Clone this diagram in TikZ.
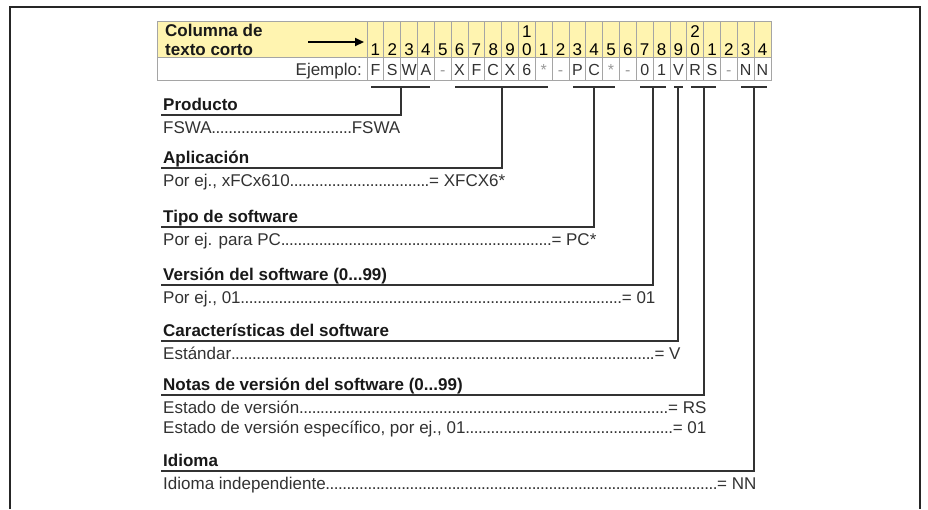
\documentclass[tikz,border=0pt]{standalone}
\usepackage{fontspec}
\setmainfont{Liberation Sans}
\usetikzlibrary{arrows.meta,positioning,calc}
\definecolor{hdyellow}{RGB}{255,244,176}
\definecolor{gridgray}{RGB}{165,165,165}
\definecolor{ink}{RGB}{50,50,50}
\newcommand{\leadline}[3]{\hbox to #1pt{#2\xleaders\hbox to 4.2pt{\hss.\hss}\hfill#3}}

\begin{document}
\begin{tikzpicture}[x=1pt, y=-1pt,
  font=\fontsize{17}{20}\selectfont,
  frame/.style={line width=2.6pt, black!85},
  grid/.style={draw=gridgray, line width=0.8pt},
  digit/.style={anchor=base, inner sep=0pt},
  letter/.style={anchor=base, inner sep=0pt, font=\fontsize{16}{18}\selectfont},
  brk/.style={draw=ink, line width=2pt},
  title/.style={anchor=base west, inner sep=0pt, text=black!90, font=\bfseries\fontsize{17}{20}\selectfont},
  item/.style={anchor=base west, inner sep=0pt, text=ink}]
\useasboundingbox (0,0) rectangle (928,509);
\draw[frame] (10,509) -- (10,7) -- (920,7) -- (920,509);

% table head
\fill[hdyellow] (157,21) rectangle (771,57);
\draw[grid] (157,21) rectangle (771,80);
\draw[grid] (157,57) -- (771,57);
\foreach \i in {0,...,24}
  \draw[grid] ({367+16.83*\i},21) -- ({367+16.83*\i},80);
\node[title] (hd1) at (165,36) {Columna de};
\node[title] (hd2) at (165,55) {texto corto};
\coordinate (ar1) at (308,42);
\coordinate (ar2) at (364,42);
\draw[-{Triangle[length=9pt,width=8pt]}, line width=2.2pt] (ar1) -- (ar2);
\foreach \d [count=\i] in {1,2,3,4,5,6,7,8,9,0,1,2,3,4,5,6,7,8,9,0,1,2,3,4}
  \node[digit] (d\i) at ({367+16.83*(\i-0.5)},55) {\d};
\node[digit] (d10t) at ({367+16.83*9.5},37) {1};
\node[digit] (d20t) at ({367+16.83*19.5},37) {2};

% example row
\node[item, anchor=base east] (ej) at (362,75) {Ejemplo:};
\foreach \c/\k [count=\i] in {F/ink,S/ink,W/ink,A/ink,-/black!40,X/ink,F/ink,C/ink,X/ink,6/ink,*/black!40,-/black!40,P/ink,C/ink,*/black!40,-/black!40,0/ink,1/ink,V/ink,R/ink,S/ink,-/black!40,N/ink,N/ink}
  \node[letter, text=\k] (e\i) at ({367+16.83*(\i-0.5)},75) {\c};

% brackets and leaders
\foreach \a/\b/\u [count=\k] in {1/4/115, 6/11/168, 13/15/227, 17/18/285, 19/19/341, 20/21/395, 23/24/471} {
  \coordinate (bl\k) at ({367+16.83*(\a-1)+4},87);
  \coordinate (br\k) at ({367+16.83*\b-4},87);
  \coordinate (b\k) at ({367+16.83*(\a+\b-1)/2},87);
  \coordinate (u\k) at (161,\u);
  \draw[brk] (bl\k) -- (br\k);
  \draw[brk] (b\k) |- (u\k);
}

\node[title] (t1) at (163,110) {Producto};
\node[item] (i1) at (163,133) {\leadline{237}{FSWA}{FSWA}};
\node[title] (t2) at (163,163) {Aplicación};
\node[item] (i2) at (163,186) {\leadline{342}{Por ej., xFCx610}{= XFCX6*}};
\node[title] (t3) at (163,222) {Tipo de software};
\node[item] (i3) at (163,245) {\leadline{433}{Por ej. para PC}{= PC*}};
\node[title] (t4) at (163,280) {Versión del software (0...99)};
\node[item] (i4) at (163,303) {\leadline{492}{Por ej., 01}{= 01}};
\node[title] (t5) at (163,336) {Características del software};
\node[item] (i5) at (163,359) {\leadline{517}{Estándar}{= V}};
\node[title] (t6) at (163,390) {Notas de versión del software (0...99)};
\node[item] (i6) at (163,413) {\leadline{543}{Estado de versión}{= RS}};
\node[item] (i6b) at (163,433) {\leadline{543}{Estado de versión específico, por ej., 01}{= 01}};
\node[title] (t7) at (163,466) {Idioma};
\node[item] (i7) at (163,489) {\leadline{593}{Idioma independiente}{= NN}};
\end{tikzpicture}
\end{document}
